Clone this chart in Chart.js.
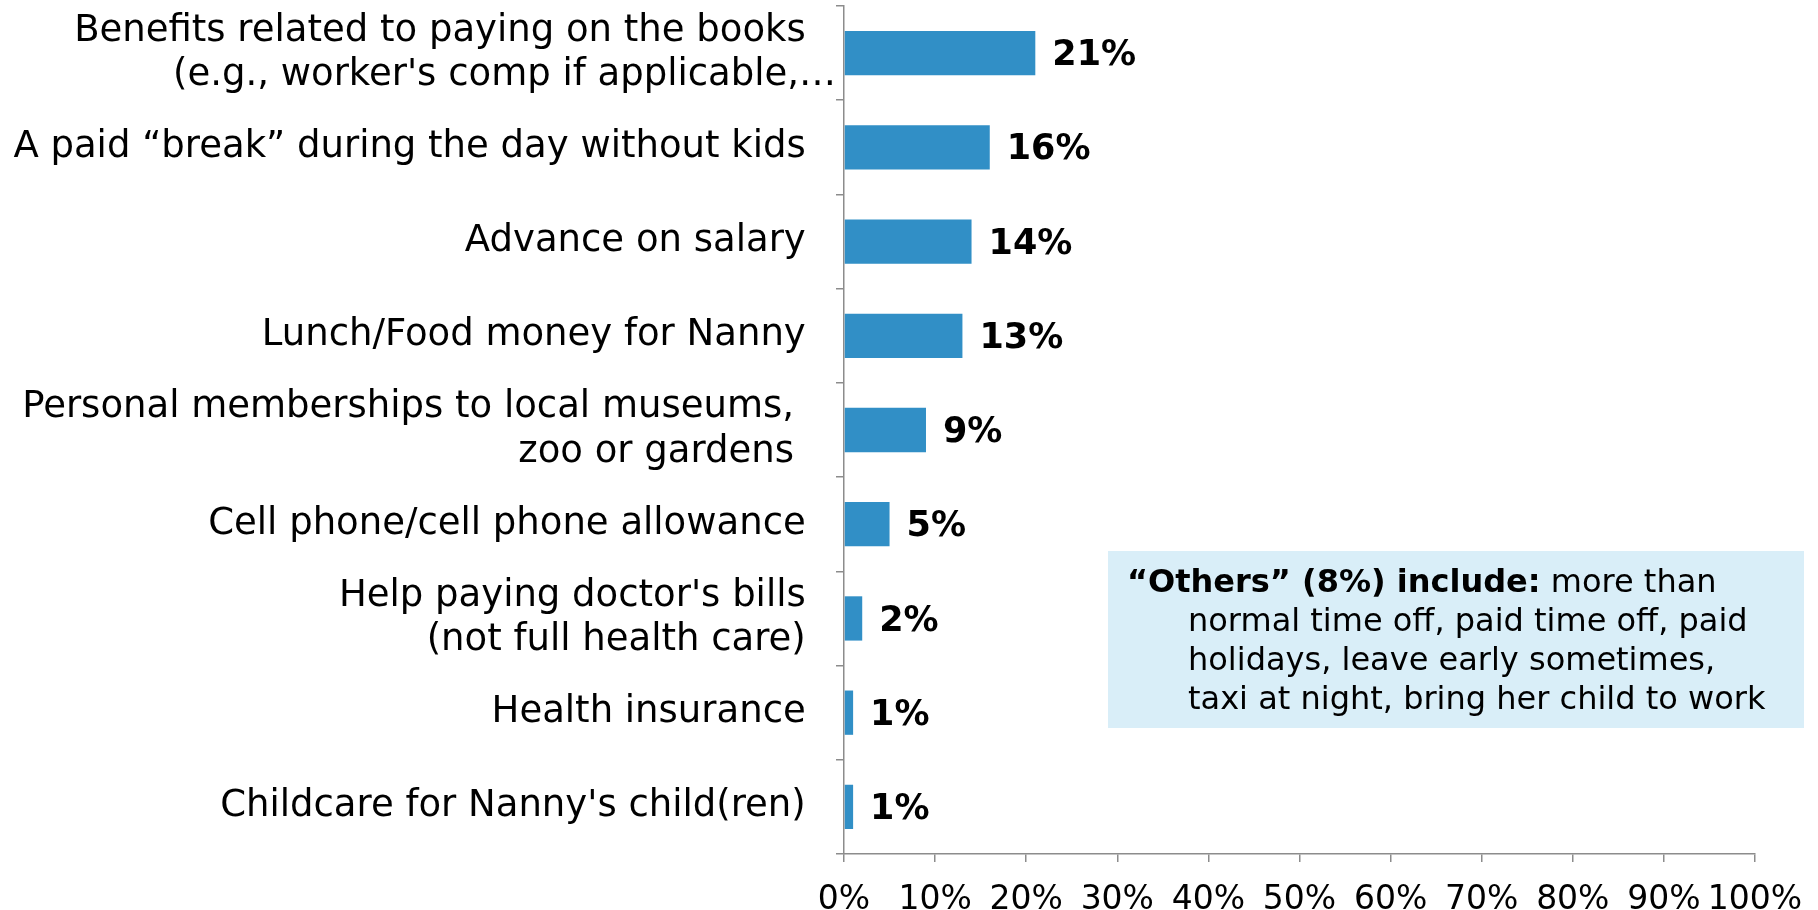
<!DOCTYPE html>
<html>
<head>
<meta charset="utf-8">
<script src="https://cdn.jsdelivr.net/npm/chart.js@4/dist/chart.umd.min.js"></script>
<style>
  html, body { margin: 0; padding: 0; background: #fff; }
  #wrap { width: 1818px; height: 910px; }
</style>
</head>
<body>
<div id="wrap"><canvas id="benefitsChart"></canvas></div>
<script>
// Benefits offered to the nanny beyond salary (% of respondents)
const categories = [
    ["Benefits related to paying on the books", "(e.g., worker's comp if applicable,…"],
    "A paid “break” during the day without kids",
    "Advance on salary",
    "Lunch/Food money for Nanny",
    ["Personal memberships to local museums, ", "zoo or gardens "],
    "Cell phone/cell phone allowance",
    ["Help paying doctor's bills", "(not full health care)"],
    "Health insurance",
    "Childcare for Nanny's child(ren)"
];
const shares = [21, 16, 14, 13, 9, 5, 2, 1, 1];
const xTicks = [0, 10, 20, 30, 40, 50, 60, 70, 80, 90, 100];

const othersBold = "“Others” (8%) include:";
const othersLines = [
    " more than",
    "normal time off, paid time off, paid",
    "holidays, leave early sometimes,",
    "taxi at night, bring her child to work"
];

const FONT = '"DejaVu Sans", Verdana, sans-serif';
const AXIS_GREY = '#8c8c8c';

// value labels at the end of each bar
const barValueLabels = {
    id: 'barValueLabels',
    afterDatasetsDraw(chart) {
        const ctx = chart.ctx;
        const meta = chart.getDatasetMeta(0);
        ctx.save();
        ctx.font = 'bold 35px ' + FONT;
        ctx.fillStyle = '#000';
        ctx.textAlign = 'left';
        ctx.textBaseline = 'middle';
        meta.data.forEach((bar, i) => {
            ctx.fillText(shares[i] + '%', bar.x + 17, bar.y + 3);
        });
        ctx.restore();
    }
};

// light blue note box listing the "others"
const othersNote = {
    id: 'othersNote',
    afterDraw(chart) {
        const ctx = chart.ctx;
        ctx.save();
        ctx.fillStyle = '#d9eef8';
        ctx.fillRect(1108, 551, 696, 177);
        ctx.fillStyle = '#000';
        ctx.textBaseline = 'middle';
        ctx.textAlign = 'left';
        ctx.font = 'bold 32px ' + FONT;
        ctx.fillText(othersBold, 1127, 584);
        const w = ctx.measureText(othersBold).width;
        ctx.font = '32px ' + FONT;
        ctx.fillText(othersLines[0], 1127 + w, 584);
        for (let i = 1; i < othersLines.length; i++) {
            ctx.fillText(othersLines[i], 1188, 584 + i * 39);
        }
        ctx.restore();
    }
};

const ctx = document.getElementById('benefitsChart').getContext('2d');
const benefitsChart = new Chart(ctx, {
    type: 'bar',
    data: {
        labels: categories,
        datasets: [{
            data: shares,
            backgroundColor: '#318fc6',
            borderWidth: 0,
            barPercentage: 0.47,
            categoryPercentage: 1.0
        }]
    },
    options: {
        indexAxis: 'y',
        responsive: true,
        maintainAspectRatio: false,
        animation: false,
        layout: { padding: { top: 6, right: 63, bottom: 0, left: 0 } },
        plugins: {
            legend: { display: false },
            tooltip: { enabled: false }
        },
        scales: {
            x: {
                min: 0,
                max: 100,
                afterBuildTicks: scale => {
                    scale.ticks = xTicks.map(v => ({ value: v }));
                },
                // "100%" may hang past the plot edge, like the axis labels do
                afterFit: scale => {
                    scale.height = 56;
                    scale.paddingLeft = 0;
                    scale.paddingRight = 0;
                },
                ticks: {
                    color: '#000',
                    padding: 19,
                    maxRotation: 0,
                    autoSkip: false,
                    font: { family: FONT, size: 33 },
                    callback: v => v + '%'
                },
                grid: {
                    drawOnChartArea: false,
                    drawTicks: true,
                    tickLength: 8,
                    color: AXIS_GREY,
                    lineWidth: 1.5
                },
                border: { display: true, color: AXIS_GREY, width: 1.5 }
            },
            y: {
                // fixed axis width; two-line labels must not push the plot down
                afterFit: scale => {
                    scale.width = 844;
                    scale.paddingTop = 0;
                    scale.paddingBottom = 0;
                },
                ticks: {
                    color: '#000',
                    padding: 0,
                    autoSkip: false,
                    font: { family: FONT, size: 37, lineHeight: 1.2 },
                    // keep the usual gap before the axis, except for the cut-off line
                    callback: function (value, index) {
                        const lbl = categories[index];
                        const pad = s => s.endsWith('…') ? s : s + '\u2002 ';
                        return Array.isArray(lbl) ? lbl.map(pad) : pad(lbl);
                    }
                },
                grid: {
                    offset: true,
                    drawOnChartArea: false,
                    drawTicks: true,
                    tickLength: 8,
                    color: AXIS_GREY,
                    lineWidth: 1.5
                },
                border: { display: true, color: AXIS_GREY, width: 1.5 }
            }
        }
    },
    plugins: [barValueLabels, othersNote]
});
</script>
</body>
</html>
